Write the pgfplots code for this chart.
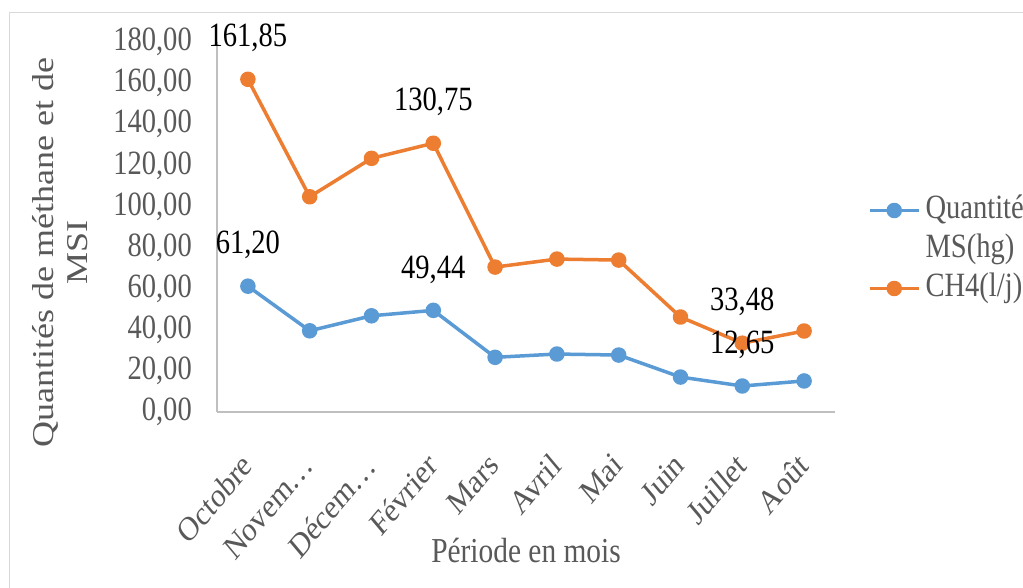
\documentclass[border=0pt]{standalone}
\usepackage{fontspec}
\setmainfont{Liberation Serif}[FakeStretch=0.84]
\newfontfamily\plainfont{Liberation Serif}
\usepackage{pgfplots}
\pgfplotsset{compat=1.18}
\definecolor{cOr}{HTML}{ED7D31}
\definecolor{cBl}{HTML}{5B9BD5}
\definecolor{txt}{HTML}{595959}
\definecolor{axc}{HTML}{BFBFBF}
\definecolor{frm}{HTML}{D9D9D9}
\newcommand\fs{\fontsize{34}{40}\selectfont}
\newcommand\fsl{\fontsize{35}{43}\selectfont}
\newcommand\fsg{\fontsize{34}{40}\selectfont}
\newcommand\fsy{\fontsize{36}{40.5}\selectfont}
\begin{document}
\begin{tikzpicture}
\useasboundingbox (0pt,0pt) rectangle (1023pt,588pt);
\fill[white] (0pt,0pt) rectangle (1023pt,588pt);
\draw[frm, line width=1pt] (9pt,0pt) -- (9pt,575pt) -- (1023pt,575pt);
\begin{axis}[
  at={(217pt,176pt)}, anchor=south west,
  width=618pt, height=370pt, scale only axis,
  xmin=-0.5, xmax=9.5, ymin=0, ymax=180,
  axis x line*=bottom, axis y line*=left,
  axis line style={axc, line width=1.3pt},
  xtick={0,...,9},
  xticklabels={Octobre,Novem…,Décem…,Février,Mars,Avril,Mai,Juin,Juillet,Août},
  ytick={0,20,...,180},
  major tick length=0pt, minor tick length=0pt,
  yticklabel style={/pgf/number format/.cd, fixed, fixed zerofill, precision=2, use comma, assume math mode=true, /tikz/.cd, font=\fs, text=txt, anchor=east, inner sep=0pt, xshift=-25pt},
  xticklabel style={xshift=-8pt, yshift=-39pt, anchor=north east, inner sep=0pt, font=\plainfont\fs, text=txt, cm={0.594,0.707,-0.594,0.707,(0pt,0pt)}},
  xlabel={Période en mois},
  every axis x label/.style={at={(axis description cs:0.5,-0.373)}, anchor=center, font=\fsl, text=txt},
  ylabel={Quantités de méthane et de\\MSI},
  every axis y label/.style={at={(axis description cs:-0.254,0.43)}, anchor=center, align=center, font=\plainfont\fsy, text=txt, cm={0,1,-0.84,0,(0pt,0pt)}},
  legend style={at={(axis description cs:1.0534,0.5919)}, anchor=north west, draw=none, fill=none, inner sep=0pt, outer sep=0pt, font=\fsg, text=txt, column sep=5pt, row sep=4pt, nodes={inner sep=0pt, text height=26pt, text depth=9pt}},
  legend cell align=left,
  legend image code/.code={\draw[mark repeat=2, mark phase=2] plot coordinates {(0pt,0pt) (24.5pt,0pt) (49pt,0pt)};},
  clip=false,
]
\addplot[cBl, line width=3.5pt, line join=round, mark=*, mark size=6pt, mark options={solid}] coordinates {
  (0,61.20) (1,39.5) (2,46.8) (3,49.44) (4,26.6) (5,28.2) (6,27.7) (7,17.0) (8,12.65) (9,15.1)};
\addlegendentry{Quantité}
\addlegendimage{empty legend}
\addlegendentry{MS(hg)}
\addplot[cOr, line width=3.5pt, line join=round, mark=*, mark size=6pt, mark options={solid}] coordinates {
  (0,161.85) (1,104.7) (2,123.4) (3,130.75) (4,70.5) (5,74.4) (6,73.9) (7,46.2) (8,33.48) (9,39.4)};
\addlegendentry{CH4(l/j)}
\addplot[draw=none, mark=none, forget plot, point meta=explicit symbolic, nodes near coords,
  every node near coord/.append style={anchor=center, yshift=41pt, font=\fs, text=black, inner sep=0pt}]
  coordinates {(0,61.20)[61,20] (3,49.44)[49,44] (8,12.65)[12,65]};
\addplot[draw=none, mark=none, forget plot, point meta=explicit symbolic, nodes near coords,
  every node near coord/.append style={anchor=center, yshift=41pt, font=\fs, text=black, inner sep=0pt}]
  coordinates {(0,161.85)[161,85] (3,130.75)[130,75] (8,33.48)[33,48]};
\end{axis}
\end{tikzpicture}
\end{document}
